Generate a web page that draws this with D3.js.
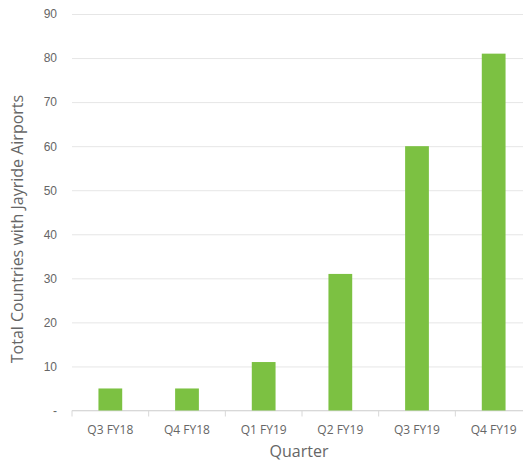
<!DOCTYPE html>
<html>
<head>
<meta charset="utf-8">
<script src="https://cdn.jsdelivr.net/npm/d3@7"></script>
<style>
  body { margin: 0; background: #fff; }
  svg { display: block; font-family: "Open Sans", sans-serif; }
  .tick text { fill: #666; font-size: 12px; }
</style>
</head>
<body>
<svg></svg>
<script>
let quarters = ["Q3 FY18", "Q4 FY18", "Q1 FY19", "Q2 FY19", "Q3 FY19", "Q4 FY19"];
let countries = [5, 5, 11, 31, 60, 81];
let yTicks = [0, 10, 20, 30, 40, 50, 60, 70, 80, 90];

let width = 523;
let height = 462;
let plotLeft = 72;
let plotRight = 532;
let plotTop = 14;
let plotBottom = 410.5;

let svg = d3.select("svg")
    .attr("width", width)
    .attr("height", height);

let xScale = d3.scaleBand()
    .domain(quarters)
    .range([plotLeft, plotRight])
    .paddingInner(0.69)
    .paddingOuter(0.345);

let yScale = d3.scaleLinear()
    .domain([0, 90])
    .range([plotBottom, plotTop]);

// horizontal gridlines + y labels
let yAxis = d3.axisLeft(yScale)
    .tickValues(yTicks)
    .tickSize(-(plotRight - plotLeft))
    .tickPadding(15)
    .tickFormat(d => d === 0 ? "-" : d);

let gy = svg.append("g")
    .attr("transform", "translate(" + plotLeft + ", 0)")
    .call(yAxis);
gy.select(".domain").remove();
gy.selectAll(".tick line").attr("stroke", "#e6e6e6");

// x axis with band ticks
let bandEdges = quarters.map(q => xScale(q) - xScale.step() * xScale.paddingInner() / 2);
bandEdges.push(plotRight);

let gx = svg.append("g");
gx.append("line")
    .attr("x1", plotLeft).attr("x2", plotRight)
    .attr("y1", plotBottom).attr("y2", plotBottom)
    .attr("stroke", "#d8d8d8");
gx.selectAll(".edge")
    .data(bandEdges)
    .enter()
    .append("line")
    .attr("x1", d => d).attr("x2", d => d)
    .attr("y1", plotBottom).attr("y2", plotBottom + 6)
    .attr("stroke", "#d8d8d8");
gx.selectAll(".label")
    .data(quarters)
    .enter()
    .append("text")
    .attr("x", d => xScale(d) + xScale.bandwidth() / 2)
    .attr("y", plotBottom + 23)
    .attr("text-anchor", "middle")
    .attr("fill", "#666")
    .style("font-size", "12px")
    .text(d => d);

// bars
svg.append("g")
    .selectAll("rect")
    .data(countries)
    .enter()
    .append("rect")
    .attr("x", (d, i) => xScale(quarters[i]))
    .attr("y", d => yScale(d))
    .attr("width", xScale.bandwidth())
    .attr("height", d => plotBottom - yScale(d))
    .attr("fill", "#7cc142");

// axis titles
svg.append("text")
    .attr("x", (plotLeft + plotRight) / 2 - 3)
    .attr("y", 457)
    .attr("text-anchor", "middle")
    .attr("fill", "#666")
    .style("font-size", "16px")
    .text("Quarter");

svg.append("text")
    .attr("transform", "rotate(-90)")
    .attr("x", -229)
    .attr("y", 23)
    .attr("text-anchor", "middle")
    .attr("fill", "#666")
    .style("font-size", "16px")
    .text("Total Countries with Jayride Airports");
</script>
</body>
</html>
